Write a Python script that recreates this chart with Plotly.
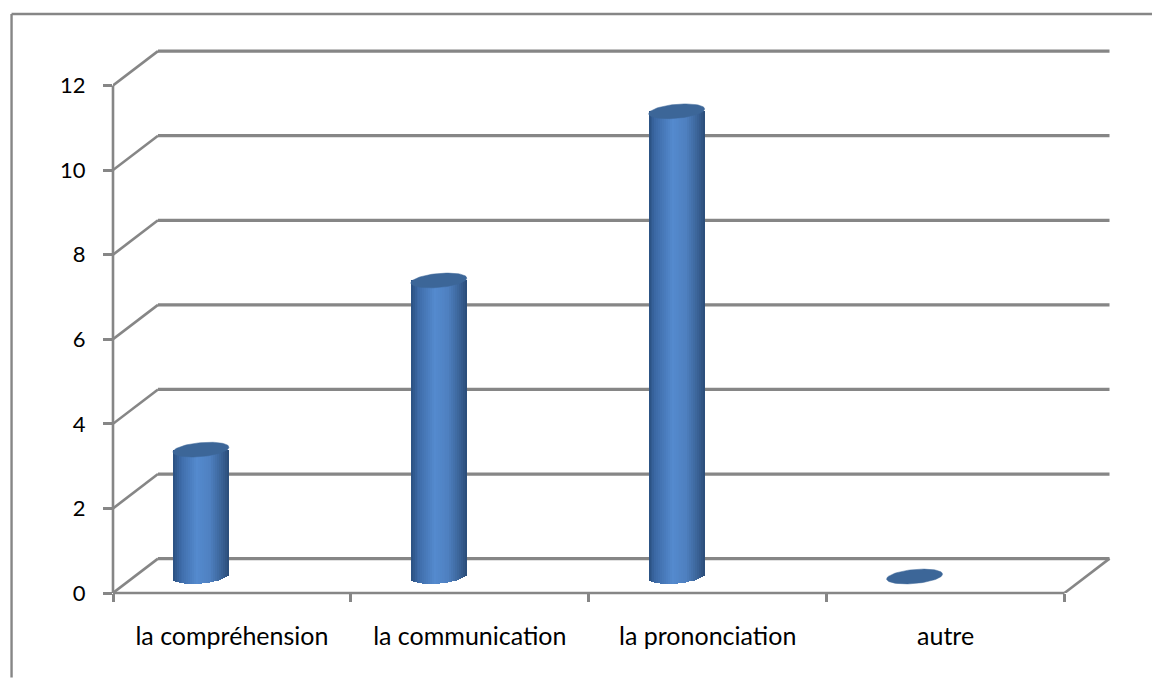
import math
import plotly.graph_objects as go

categories = ["la compréhension", "la communication", "la prononciation", "autre"]
values = [3, 7, 11, 0]
y_ticks = [0, 2, 4, 6, 8, 10, 12]

GRID = "#868686"
FONT = "Lato"
W, H = 1152, 678
L, R, T, B = 112.5, 1113, 46, 593.5      # plot area, px
PX_X = 238.0                             # px per category
PX_Y = 42.33                             # px per y unit
DX = 45 / PX_X                           # depth shift of the back wall
DY = 34.4 / PX_Y
BAR_SHIFT = -31 / PX_X                   # cylinders sit left of the category centre
BASE = 16.5 / PX_Y                       # cylinder base above the front floor line
A = 28.0 / PX_X                          # ellipse semi-axis, x
EB = 7.0 / PX_Y                          # ellipse semi-axis, y
TILT = 2.4 / PX_Y                        # ellipse tilt
N = 29

x_lo = -0.5
x_hi = x_lo + (R - L) / PX_X
y_hi = (B - T) / PX_Y
x_pos = list(range(len(categories)))


def strip_colour(u):
    # u in -1..1 across the cylinder
    stops = [(-1, (42, 80, 128)), (-0.75, (60, 105, 165)), (-0.15, (84, 138, 206)),
             (0.35, (78, 128, 192)), (0.75, (58, 98, 150)), (1, (42, 76, 120))]
    for (a, ca), (b, cb) in zip(stops, stops[1:]):
        if a <= u <= b:
            f = (u - a) / (b - a)
            c = [round(p + (q - p) * f) for p, q in zip(ca, cb)]
            return f"rgb({c[0]},{c[1]},{c[2]})"
    return "rgb(42,76,120)"


fig = go.Figure()

# cylinders: vertical strips, bottom following the lower edge of the ellipse
for i in range(N):
    u = -1 + (2 * i + 1) / N
    low = -EB * math.sqrt(max(0, 1 - u * u)) + TILT * u
    fig.add_trace(go.Bar(
        x=[p + BAR_SHIFT + u * A for p in x_pos],
        y=[v + BASE - (BASE + low) if v > 0 else 0 for v in values],
        base=[BASE + low for _ in values],
        width=2 * A / N * 1.15,
        marker=dict(color=strip_colour(u), line_width=0),
        showlegend=False, hoverinfo="skip",
    ))

# tops of the cylinders
for p, v in zip(x_pos, values):
    ts = [2 * math.pi * k / 72 for k in range(73)]
    fig.add_trace(go.Scatter(
        x=[p + BAR_SHIFT + A * math.cos(t) for t in ts],
        y=[v + BASE + EB * math.sin(t) + TILT * math.cos(t) for t in ts],
        mode="lines", fill="toself", fillcolor="#3c6698",
        line=dict(color="#3c6698", width=0.5),
        showlegend=False, hoverinfo="skip", cliponaxis=False,
    ))

# wall diagonals
xs, ys = [], []
for t in y_ticks:
    xs += [x_lo, x_lo + DX, None]
    ys += [t, t + DY, None]
xs += [x_lo + 4, x_lo + 4 + DX, None]
ys += [0, DY, None]
fig.add_trace(go.Scatter(
    x=xs, y=ys, mode="lines", line=dict(color=GRID, width=2.6),
    showlegend=False, hoverinfo="skip", cliponaxis=False,
))

# back wall lines (behind the bars)
shapes = [
    dict(type="line", xref="x", yref="y", layer="below",
         x0=x_lo + DX, x1=x_lo + 4 + DX, y0=t + DY, y1=t + DY,
         line=dict(color=GRID, width=3.2))
    for t in y_ticks
]
# left axis line and front floor line, on paper so they are not clipped at the plot edge
shapes += [
    dict(type="line", xref="paper", yref="paper", x0=0, x1=0,
         y0=0, y1=y_ticks[-1] / y_hi, line=dict(color=GRID, width=2.6)),
    dict(type="line", xref="paper", yref="paper", x0=0, x1=len(categories) / (x_hi - x_lo),
         y0=0, y1=0, line=dict(color=GRID, width=2.6)),
]
# outer frame
fx = lambda px: (px - L) / (R - L)
fy = lambda py: 1 - (py - T) / (B - T)
shapes += [
    dict(type="line", xref="paper", yref="paper", x0=fx(11), x1=fx(W), y0=fy(14), y1=fy(14),
         line=dict(color=GRID, width=2.4)),
    dict(type="line", xref="paper", yref="paper", x0=fx(11), x1=fx(11), y0=fy(14), y1=fy(H),
         line=dict(color=GRID, width=2.4)),
]

fig.update_layout(
    width=W, height=H,
    margin=dict(l=L, r=W - R, t=T, b=H - B, pad=0, autoexpand=False),
    paper_bgcolor="white", plot_bgcolor="white",
    barmode="overlay", bargap=0,
    showlegend=False, hovermode=False,
    shapes=shapes,
    font=dict(family=FONT, color="#000000"),
    xaxis=dict(
        range=[x_lo, x_hi], tickmode="array", tickvals=x_pos, ticktext=categories,
        ticks="", showgrid=False, zeroline=False, showline=False,
        tickfont=dict(family=FONT, size=25), ticklabelstandoff=26,
        minor=dict(tickmode="array", tickvals=[x_lo + k for k in range(len(categories) + 1)],
                   ticks="outside", ticklen=8, tickwidth=2.6, tickcolor=GRID, showgrid=False),
    ),
    yaxis=dict(
        range=[0, y_hi], tickmode="array", tickvals=y_ticks,
        ticks="outside", ticklen=9, tickwidth=2.6, tickcolor=GRID,
        showgrid=False, zeroline=False, showline=False,
        tickfont=dict(family=FONT, size=22), ticklabelstandoff=13,
    ),
)

fig.write_html("out.html", config={"displayModeBar": False},
               post_script="document.documentElement.style.overflow='hidden';document.body.style.margin='0';")
